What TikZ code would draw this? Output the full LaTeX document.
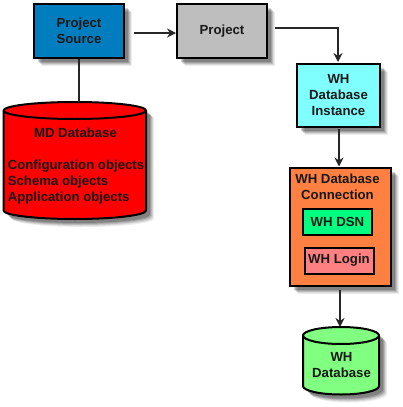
\documentclass[tikz,border=0pt]{standalone}
\usepackage{fontspec}
\setmainfont{Liberation Sans}
\usetikzlibrary{arrows.meta,shadows}
\newcommand{\lbl}{\fontsize{13.2pt}{16pt}\selectfont\bfseries}
\tikzset{
  softshadow/.style={
    general shadow={shadow xshift=8pt,shadow yshift=-8pt,fill=black,opacity=.07},
    general shadow={shadow xshift=7pt,shadow yshift=-7pt,fill=black,opacity=.09},
    general shadow={shadow xshift=6pt,shadow yshift=-6pt,fill=black,opacity=.12},
    general shadow={shadow xshift=5pt,shadow yshift=-5pt,fill=black,opacity=.15},
    general shadow={shadow xshift=4pt,shadow yshift=-4pt,fill=black,opacity=.18}},
  boxnode/.style={draw=black,line width=2pt,softshadow,inner sep=0pt,align=center,font=\lbl,text=black!90},
  innerbox/.style={draw=black,line width=2pt,inner sep=0pt,align=center,font=\lbl,text=black!90},
  dbtext/.style={align=left,inner sep=0pt,font=\lbl,text=black!90},
  cylline/.style={draw=black,line width=2pt},
  link/.style={draw=black!85,line width=1.7pt},
  flow/.style={link,-{Stealth[length=9pt,width=9pt]}}
}
% #1 left x, #2 right x, #3 top rim centre y, #4 bottom rim centre y, #5 ry, #6 colour
\newcommand{\cyl}[6]{%
  \pgfmathsetmacro{\rx}{(#2-#1)/2}%
  \foreach \s/\o in {8/.07,7/.09,6/.12,5/.15,4/.18}{%
    \fill[black,opacity=\o,xshift=\s pt,yshift=-\s pt]
      (#1,#3) arc[start angle=180,delta angle=-180,x radius=\rx pt,y radius=#5pt]
      -- (#2,#4) arc[start angle=0,delta angle=-180,x radius=\rx pt,y radius=#5pt] -- cycle;}%
  \path[fill=#6,cylline]
      (#1,#3) arc[start angle=180,delta angle=-180,x radius=\rx pt,y radius=#5pt]
      -- (#2,#4) arc[start angle=0,delta angle=-180,x radius=\rx pt,y radius=#5pt] -- cycle;
  \draw[cylline] (#1,#3) arc[start angle=180,delta angle=180,x radius=\rx pt,y radius=#5pt];
}
\definecolor{cps}{RGB}{0,125,190}
\definecolor{cpr}{RGB}{190,190,190}
\definecolor{cwi}{RGB}{128,255,255}
\definecolor{cwc}{RGB}{255,128,64}
\definecolor{cdsn}{RGB}{0,255,128}
\definecolor{clog}{RGB}{255,128,128}
\definecolor{cwd}{RGB}{128,255,128}
\begin{document}
\begin{tikzpicture}[x=1pt,y=-1pt]
\path[use as bounding box,fill=white] (0,0) rectangle (402,407);
% cylinders
\cyl{3.5}{146}{110.5}{210.5}{8.5}{red}
\cyl{303}{379}{335.5}{386}{8.5}{cwd}
\coordinate (mdtop) at (77.5,102);
\coordinate (wdtop) at (340,327);
\node[dbtext,align=center] (mdt) at (75.5,132.5) {MD Database};
\node[dbtext] (mdo) at (76,182) {Configuration objects\\Schema objects\\Application objects};
\node[dbtext,align=center] (wdt) at (341.5,365) {WH\\Database};
% boxes
\node[boxnode,fill=cps,minimum width=90pt,minimum height=54pt] (ps) at (79,31) {Project\\Source};
\node[boxnode,fill=cpr,minimum width=90pt,minimum height=54pt] (pr) at (222,31) {Project};
\node[boxnode,fill=cwi,minimum width=83pt,minimum height=63pt] (wi) at (338.5,95) {WH\\Database\\Instance};
\node[boxnode,fill=cwc,minimum width=101pt,minimum height=118pt] (wc) at (340,226.5) {};
\node[dbtext,align=center] (wct) at (337.5,187) {WH Database\\Connection};
\node[innerbox,fill=cdsn,minimum width=69pt,minimum height=26pt] (dsn) at (337.5,221.5) {WH DSN};
\node[innerbox,fill=clog,minimum width=69pt,minimum height=26pt] (login) at (339,260.5) {WH Login};
% connectors
\coordinate (a1) at (134,33);
\coordinate (a2) at (275,28);
\coordinate (a3) at (339,129);
\coordinate (a4) at (340,290);
\coordinate (a2e) at (338,62);
\draw[link] (ps.south) -- (ps.south |- mdtop);
\draw[flow] (a1) -- (a1 -| pr.west);
\draw[flow] (a2) -| (a2e);
\draw[flow] (a3) -- (a3 |- wc.north);
\draw[flow] (a4) -- (a4 |- wdtop);
\end{tikzpicture}
\end{document}
